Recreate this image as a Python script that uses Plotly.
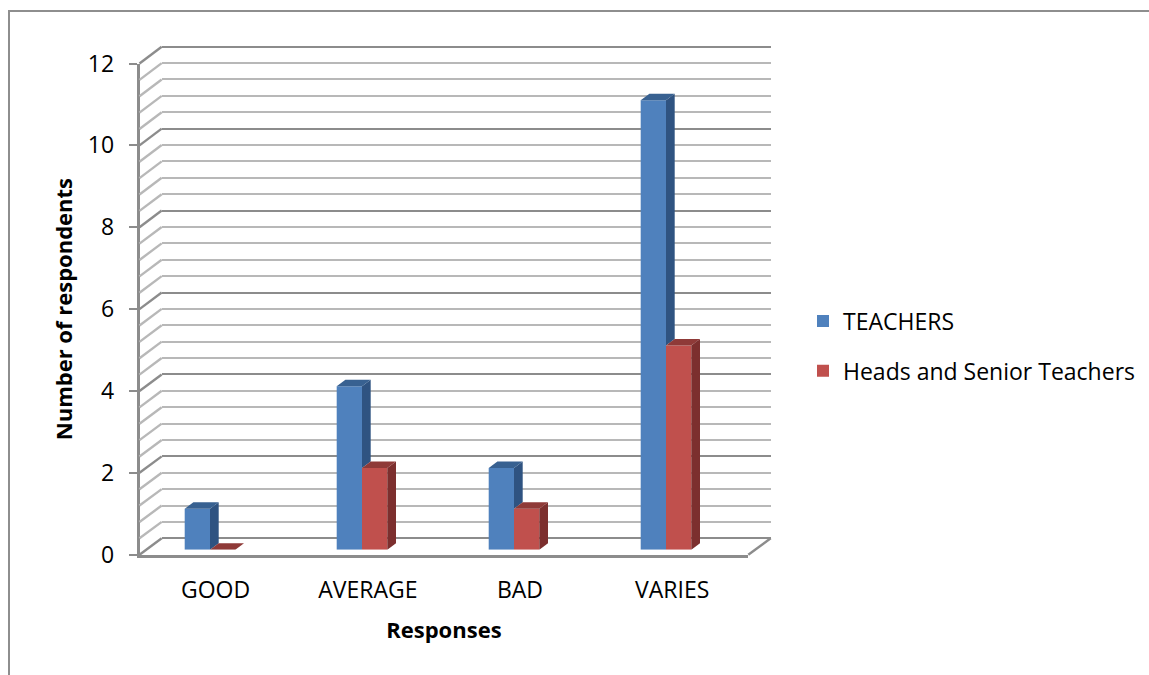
import plotly.graph_objects as go

categories = ["GOOD", "AVERAGE", "BAD", "VARIES"]
teachers = [1, 4, 2, 11]
heads = [0, 2, 1, 5]
y_ticks = [0, 2, 4, 6, 8, 10, 12]

W, H = 1149, 675
FONT = "Open Sans"
MAJOR, MINOR = "#8c8c8c", "#b8b8b8"
BLUE, BLUE_SIDE, BLUE_TOP = "#4f81bd", "#2f5381", "#386191"
RED, RED_SIDE, RED_TOP = "#c0504d", "#7c2f2e", "#8f3a38"
MINOR_STEP = 0.4
GRID_W = 2.4

def xd(a, b):
    return [a / W, b / W]

def yd(bottom, top):
    return [1 - bottom / H, 1 - top / H]

# Front plane (axes) in pixels
fx0, fx1, fy0, fy1 = 139.5, 748.3, 554.7, 63.5
# Back wall
bx0, bx1, by0, by1 = 161.7, 770.7, 538.3, 46.7
# Bars plane
unit_x, unit_y = 152.0, 40.85
bar0_x, bar0_y = 210.0, 549.7
cx0, cx1, cy0, cy1 = 139.5, 790.0, 549.7, 30.0
bar_w = 25.3 / unit_x
depth_x, depth_y = 8.7 / unit_x, 6.5 / unit_y

front_unit_y = (fy0 - fy1) / 12
back_unit_y = (by0 - by1) / 12
# back wall range runs a little past 0 and 12 so the end gridlines are kept
back_pad = 0.1

fig = go.Figure()

# back wall and front axes subplots each need a trace to exist
fig.add_trace(go.Scatter(x=[None], y=[None], xaxis="x", yaxis="y", showlegend=False, hoverinfo="skip"))
fig.add_trace(go.Scatter(x=[None], y=[None], xaxis="x2", yaxis="y2", showlegend=False, hoverinfo="skip"))

# Bars (front faces)
xs = list(range(len(categories)))
fig.add_trace(go.Bar(x=xs, y=teachers, width=bar_w, offset=-bar_w, name="TEACHERS", marker_color=BLUE,
                     marker_line_width=0, xaxis="x3", yaxis="y3", legendgroup="a", customdata=categories))
fig.add_trace(go.Bar(x=xs, y=heads, width=bar_w, offset=0, name="Heads and Senior Teachers", marker_color=RED,
                     marker_line_width=0, xaxis="x3", yaxis="y3", legendgroup="b", customdata=categories))

def face(px, py, color):
    fig.add_trace(go.Scatter(x=px, y=py, mode="lines", fill="toself", fillcolor=color,
                             line=dict(width=0, color=color), xaxis="x3", yaxis="y3",
                             cliponaxis=False, showlegend=False, hoverinfo="skip"))

for i, (t, h) in enumerate(zip(teachers, heads)):
    # blue side, starts at the red bar's top because the red bar hides the rest
    face([i, i + depth_x, i + depth_x, i, i], [h, h + depth_y, t + depth_y, t, h], BLUE_SIDE)
    # blue top
    face([i - bar_w, i - bar_w + depth_x, i + depth_x, i, i - bar_w],
         [t, t + depth_y, t + depth_y, t, t], BLUE_TOP)
    # red side
    r = i + bar_w
    face([r, r + depth_x, r + depth_x, r, r], [0, depth_y, h + depth_y, h, 0], RED_SIDE)
    # red top
    face([i, i + depth_x, r + depth_x, r, i], [h, h + depth_y, h + depth_y, h, h], RED_TOP)

# Side-wall diagonals and floor edge, on a full-page pixel axis pair
for k in range(31):
    v = k * MINOR_STEP
    fig.add_trace(go.Scatter(
        x=[fx0, bx0], y=[fy0 - v * front_unit_y, by0 - v * back_unit_y], mode="lines", xaxis="x4", yaxis="y4",
        line=dict(color=MAJOR if k % 5 == 0 else MINOR, width=GRID_W),
        cliponaxis=False, showlegend=False, hoverinfo="skip"))
fig.add_trace(go.Scatter(
    x=[fx1, bx1], y=[fy0, by0], mode="lines", xaxis="x4", yaxis="y4",
    line=dict(color=MAJOR, width=GRID_W), cliponaxis=False, showlegend=False, hoverinfo="skip"))

# Chart-area border
fig.add_trace(go.Scatter(x=[9, 9, W], y=[H, 11, 11], mode="lines", xaxis="x4", yaxis="y4",
                         line=dict(color="#8e8e8e", width=2), cliponaxis=False,
                         showlegend=False, hoverinfo="skip"))

fig.update_layout(
    width=W, height=H, autosize=False,
    margin=dict(l=0, r=0, t=0, b=0, pad=0),
    paper_bgcolor="white", plot_bgcolor="rgba(0,0,0,0)",
    font=dict(family=FONT, size=23, color="black"),
    barmode="overlay",
    showlegend=True,
    legend=dict(x=803 / W, y=1 - 299.5 / H, xanchor="left", yanchor="top",
                tracegroupgap=17, font=dict(family=FONT, size=23), bgcolor="rgba(0,0,0,0)"),
    # back wall
    xaxis=dict(domain=xd(bx0, bx1), range=[0, 1], visible=False, anchor="y"),
    yaxis=dict(domain=yd(by0 + back_pad * back_unit_y, by1 - back_pad * back_unit_y),
               range=[-back_pad, 12 + back_pad], anchor="x", tick0=0, dtick=2, showgrid=True,
               gridcolor=MAJOR, gridwidth=GRID_W, zeroline=False, showticklabels=False, ticks="",
               showline=False,
               minor=dict(tick0=0, dtick=MINOR_STEP, showgrid=True, gridcolor=MINOR, gridwidth=GRID_W)),
    # front plane
    xaxis2=dict(domain=xd(fx0, fx1), range=[-0.5, 3.5], anchor="y2", tickmode="array", tickvals=xs,
                ticktext=categories, showgrid=False, zeroline=False, showline=True, linecolor=MAJOR,
                linewidth=2.5, ticks="", ticklabelstandoff=13, tickfont=dict(family=FONT, size=23),
                automargin=False,
                title=dict(text="Responses", standoff=19, font=dict(family=FONT, size=22, color="black", weight="bold"))),
    yaxis2=dict(domain=yd(fy0, fy1), range=[0, 12], anchor="x2", tickmode="array", tickvals=y_ticks,
                showgrid=False, zeroline=False, showline=True, linecolor=MAJOR, linewidth=2.5,
                ticks="outside", ticklen=8, tickwidth=2, tickcolor=MAJOR, ticklabelstandoff=10,
                tickfont=dict(family=FONT, size=23), automargin=False,
                title=dict(text="Number of respondents", standoff=10, font=dict(family=FONT, size=22, color="black", weight="bold"))),
    # bars plane
    xaxis3=dict(domain=xd(cx0, cx1), range=[(cx0 - bar0_x) / unit_x, (cx1 - bar0_x) / unit_x],
                visible=False, anchor="y3"),
    yaxis3=dict(domain=yd(cy0, cy1), range=[0, (cy0 - cy1) / unit_y], visible=False, anchor="x3"),
    # full page
    xaxis4=dict(domain=[0, 1], range=[0, W], visible=False, anchor="y4"),
    yaxis4=dict(domain=[0, 1], range=[H, 0], visible=False, anchor="x4"),
)

fig.write_html("out.html", config=dict(displayModeBar=False),
               post_script="document.body.style.margin='0';document.body.style.overflow='hidden';")
